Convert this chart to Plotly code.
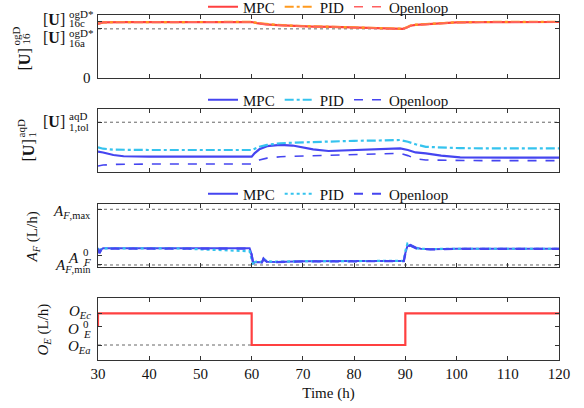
import plotly.graph_objects as go

# ---------------- data ----------------
# Panel 1: [U]16^ogD (normalised)
t1 = [30, 30.5, 31, 35, 60, 61, 62.8, 65, 68, 72, 76, 80, 85, 89.5, 90.3, 91, 92, 94, 96, 98, 100, 105, 110, 120]
mpc1 = [0.86, 0.875, 0.882, 0.886, 0.889, 0.872, 0.852, 0.84, 0.828, 0.817, 0.81, 0.802, 0.792, 0.78, 0.80, 0.83, 0.843, 0.852, 0.862, 0.872, 0.882, 0.887, 0.889, 0.889]
pid1 = [0.865, 0.878, 0.884, 0.887, 0.890, 0.874, 0.855, 0.842, 0.830, 0.819, 0.812, 0.804, 0.794, 0.782, 0.805, 0.834, 0.846, 0.855, 0.864, 0.874, 0.884, 0.889, 0.891, 0.891]
ol1 = [0.862, 0.876, 0.883, 0.886, 0.888, 0.871, 0.851, 0.839, 0.827, 0.816, 0.809, 0.801, 0.791, 0.779, 0.80, 0.829, 0.842, 0.851, 0.861, 0.871, 0.881, 0.886, 0.888, 0.888]
u16c = 0.89
u16a = 0.78

# Panel 2: [U]1^aqD (normalised)
t2 = [30, 31, 33, 35, 40, 50, 60, 60.6, 61.5, 63, 65.6, 68, 72, 75, 80, 85, 89, 90.5, 92, 94, 97, 100.7, 105, 110, 120]
mpc2 = [0.322, 0.31, 0.27, 0.25, 0.243, 0.243, 0.243, 0.30, 0.36, 0.41, 0.429, 0.42, 0.36, 0.333, 0.345, 0.36, 0.376, 0.35, 0.31, 0.297, 0.26, 0.233, 0.227, 0.227, 0.227]
pid2 = [0.392, 0.37, 0.355, 0.35, 0.349, 0.349, 0.349, 0.37, 0.40, 0.43, 0.456, 0.465, 0.478, 0.485, 0.495, 0.50, 0.508, 0.48, 0.44, 0.40, 0.385, 0.378, 0.376, 0.376, 0.376]
ol2 = [0.095, 0.11, 0.12, 0.125, 0.127, 0.127, 0.127, 0.15, 0.19, 0.22, 0.243, 0.25, 0.26, 0.265, 0.275, 0.285, 0.297, 0.26, 0.21, 0.19, 0.185, 0.18, 0.18, 0.18, 0.18]
u1tol = 0.79

# Panel 3: A_F (normalised)
t3 = [30, 30.3, 30.6, 31, 45, 59.6, 60, 60.3, 60.6, 61, 62, 62.3, 63, 65, 70, 80, 89.7, 90, 90.4, 91, 92, 93, 95, 100, 120]
mpc3 = [0.30, 0.22, 0.28, 0.297, 0.297, 0.297, 0.20, 0.05, 0.08, 0.08, 0.075, 0.14, 0.085, 0.08, 0.09, 0.095, 0.095, 0.22, 0.33, 0.35, 0.31, 0.29, 0.283, 0.29, 0.29]
pid3 = [0.30, 0.23, 0.28, 0.297, 0.297, 0.25, 0.12, 0.03, 0.08, 0.085, 0.08, 0.13, 0.09, 0.085, 0.092, 0.097, 0.097, 0.25, 0.37, 0.34, 0.30, 0.288, 0.285, 0.29, 0.29]
ol3 = [0.29, 0.22, 0.27, 0.29, 0.292, 0.292, 0.19, 0.06, 0.075, 0.078, 0.072, 0.12, 0.082, 0.078, 0.088, 0.093, 0.093, 0.21, 0.32, 0.34, 0.30, 0.285, 0.28, 0.287, 0.287]
af_max = 0.916
af_min = 0.032
af_0 = 0.19

# Panel 4: O_E (normalised)
t4 = [30, 30, 60, 90, 120]
oe4 = [0.537, 0.753, 0.242, 0.753, 0.753]
oe_c = 0.753
oe_0 = 0.537
oe_a = 0.242

x_ticks = [30, 40, 50, 60, 70, 80, 90, 100, 110, 120]
series_names = ["MPC", "PID", "Openloop"]

# ---------------- style ----------------
FONT = "Liberation Serif"
RED = "#ff4040"
ORANGE = "#ff9a1f"
RED_OL = "#ff6060"
BLUE = "#4545f0"
CYAN = "#35c3ee"
AX = "#333333"

W, H = 584, 408
ML, MR, MT, MB = 97.5, 25, 15, 48
PH = H - MT - MB


def yp(py):
    return (H - MB - py) / PH


doms = [(yp(78), yp(15)), (yp(172), yp(109)), (yp(267), yp(204)), (yp(360), yp(298))]

fig = go.Figure()

def add(x, y, name, color, dash, width, idx, legend):
    fig.add_trace(go.Scatter(
        x=x, y=y, name=name, mode="lines",
        line=dict(color=color, dash=dash, width=width),
        xaxis="x" if idx == 1 else f"x{idx}",
        yaxis="y" if idx == 1 else f"y{idx}",
        legend=legend, showlegend=legend is not None))

def refline(xs, val, idx):
    fig.add_trace(go.Scatter(x=xs, y=[val, val], mode="lines",
                             line=dict(color="#666666", dash="dot", width=1),
                             xaxis="x" if idx == 1 else f"x{idx}",
                             yaxis="y" if idx == 1 else f"y{idx}",
                             showlegend=False, hoverinfo="skip"))

refline([30, 90], u16a, 1)
refline([30, 120], u1tol, 2)
refline([30, 120], af_max, 3)
refline([30, 120], af_min, 3)
refline([30, 90], oe_a, 4)

add(t1, mpc1, series_names[0], RED, "solid", 2.2, 1, "legend")
add(t1, pid1, series_names[1], ORANGE, "dashdot", 2.2, 1, "legend")
add(t1, ol1, series_names[2], RED_OL, "dash", 1.6, 1, "legend")

add(t2, mpc2, series_names[0], BLUE, "solid", 2.2, 2, "legend2")
add(t2, pid2, series_names[1], CYAN, "dashdot", 2.2, 2, "legend2")
add(t2, ol2, series_names[2], BLUE, "dash", 1.6, 2, "legend2")

add(t3, mpc3, series_names[0], BLUE, "solid", 2.0, 3, "legend3")
add(t3, pid3, series_names[1], CYAN, "dot", 2.2, 3, "legend3")
add(t3, ol3, series_names[2], BLUE, "dash", 2.2, 3, "legend3")

fig.add_trace(go.Scatter(x=t4, y=oe4, mode="lines", line=dict(color=RED, width=2.2, shape="hv"),
                         xaxis="x4", yaxis="y4", showlegend=False))

axis_common = dict(showline=True, linecolor=AX, linewidth=1.2, mirror="ticks", ticks="inside",
                   ticklen=4, tickcolor=AX, showgrid=False, zeroline=False)

layout = dict(width=W, height=H, margin=dict(l=ML, r=MR, t=MT, b=MB, autoexpand=False),
              paper_bgcolor="white", plot_bgcolor="white",
              font=dict(family=FONT, size=15, color="#111111"))

ytickvals = [[0, u16a, u16c], [u1tol], [af_min, af_0, af_max], [oe_a, oe_0, oe_c]]
for i in range(4):
    s = "" if i == 0 else str(i + 1)
    layout["xaxis" + s] = dict(axis_common, range=[30, 120], tickvals=x_ticks,
                               showticklabels=(i == 3), anchor="y" + s,
                               tickfont=dict(size=15))
    if i > 0:
        layout["xaxis" + s]["matches"] = "x"
    layout["yaxis" + s] = dict(axis_common, range=[0, 1], domain=list(doms[i]),
                               tickvals=ytickvals[i], showticklabels=False, anchor="x" + s)
layout["xaxis4"]["title"] = dict(text="Time (h)", font=dict(size=15), standoff=6)

leg = dict(orientation="h", x=0.5, xanchor="center", yanchor="middle", bgcolor="rgba(0,0,0,0)",
           font=dict(size=15), itemwidth=30, tracegroupgap=0)
layout["legend"] = dict(leg, y=yp(7))
layout["legend2"] = dict(leg, y=yp(100))
layout["legend3"] = dict(leg, y=yp(194))

fig.update_layout(**layout)

ann = []

def lab(text, xpx, val, yref, yshift=0, xanchor="right", size=15):
    ann.append(dict(text=text, xref="paper", x=0, xshift=xpx - ML, yref=yref, y=val,
                    yshift=yshift, xanchor=xanchor, yanchor="middle", showarrow=False,
                    font=dict(size=size)))

# Panel 1 tick labels
lab("0", 92, 0, "y")
for val, sub, ys_main, ys_sup, ys_sub in [(u16c, "16c", 2, 8, -1), (u16a, "16a", -9, -4, -14)]:
    lab("[<b>U</b>]", 66, val, "y", ys_main, size=16)
    lab("ogD*", 66, val, "y", ys_sup, "left", 11)
    lab(sub, 66, val, "y", ys_sub, "left", 11)
# Panel 2
lab("[<b>U</b>]", 66, u1tol, "y2", 1, size=16)
lab("aqD", 66, u1tol, "y2", 6, "left", 11)
lab("1,tol", 66, u1tol, "y2", -5, "left", 11)
# Panel 3
lab("<i>A</i><sub><i>F</i>,max</sub>", 92, af_max, "y3", -3)
lab("<i>A</i><sub><i>F</i>,min</sub>", 92, af_min, "y3", -1)
lab("<i>A</i>", 80, af_0, "y3", -3)
lab("0", 80, af_0, "y3", 3, "left", 11)
lab("<i>F</i>", 80, af_0, "y3", -7, "left", 11)
# Panel 4
lab("<i>O</i><sub><i>Ec</i></sub>", 92, oe_c, "y4", 1)
lab("<i>O</i><sub><i>Ea</i></sub>", 92, oe_a, "y4", -2)
lab("<i>O</i>", 80, oe_0, "y4", -2)
lab("0", 80, oe_0, "y4", 3, "left", 11)
lab("<i>E</i>", 80, oe_0, "y4", -7, "left", 11)

def rot(text, xpx, ypx, size=15):
    ann.append(dict(text=text, xref="paper", x=0, xshift=xpx - ML, yref="paper", y=yp(ypx),
                    xanchor="center", yanchor="middle", textangle=-90, showarrow=False,
                    font=dict(size=size)))

rot("[<b>U</b>]", 23, 60, 16)
rot("ogD", 15, 36, 11)
rot("16", 25, 39, 11)
rot("[<b>U</b>]", 27, 151, 16)
rot("aqD", 20, 129, 11)
rot("1", 31, 135, 11)
rot("<i>A<sub>F</sub></i> (L/h)", 32, 237)
rot("<i>O<sub>E</sub></i> (L/h)", 43, 330)

fig.update_layout(annotations=ann)
fig.write_html("out.html", config={"displayModeBar": False},
               post_script="document.body.style.margin='0px';")
